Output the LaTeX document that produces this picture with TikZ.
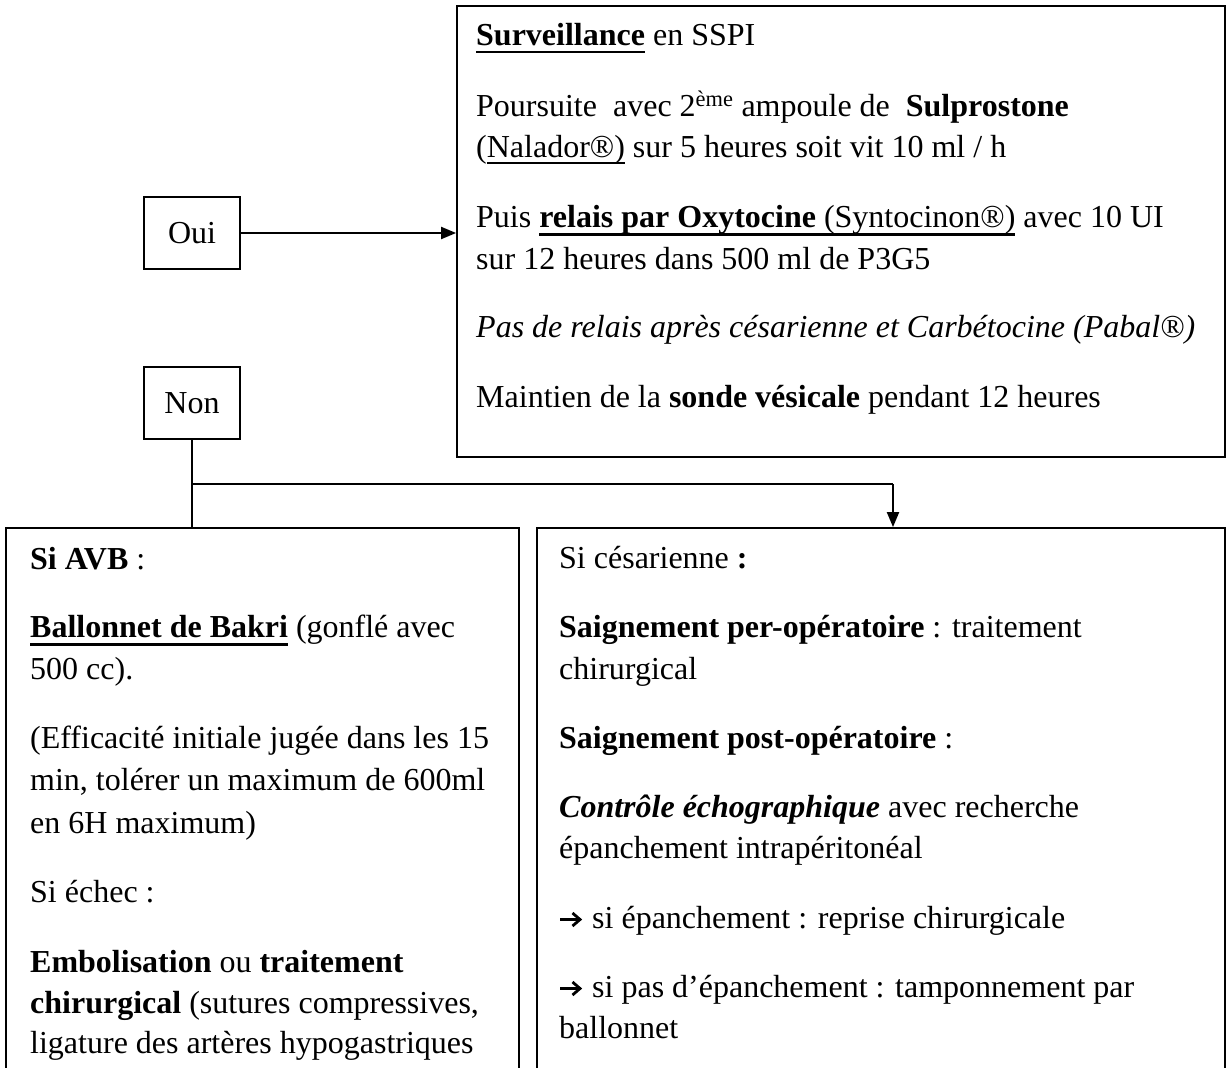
\documentclass[tikz,border=0pt]{standalone}
\usepackage{fontspec}
\setmainfont{Liberation Serif}
\usetikzlibrary{arrows.meta,calc}
\newcommand\ulb[1]{\setbox0\hbox{#1}\rlap{\rule[-8.5pt]{\wd0}{2.8pt}}\box0\relax}
\newcommand\ulr[1]{\setbox0\hbox{#1}\rlap{\rule[-6.5pt]{\wd0}{1.8pt}}\box0\relax}
\tikzset{
  box/.style={draw, line width=1.8pt, inner sep=0pt, rectangle},
  txt/.style={anchor=base west, inner sep=0pt, font=\fontsize{32}{42}\selectfont},
  conn/.style={line width=2pt},
  arr/.style={conn, -{Triangle[length=15pt,width=12pt]}},
  glypharrow/.style={line width=2.8pt, miter limit=10}
}
\newcommand\bulletarrow[1]{%
  \draw[glypharrow] ($(#1.base west)+(-32,-8.5)$) -- ++(21,0);
  \draw[glypharrow] ($(#1.base west)+(-19.5,-15)$) -- ++(7.5,6.5) -- ++(-7.5,6.5);
}
\begin{document}
\begin{tikzpicture}[x=1pt,y=-1pt]
\useasboundingbox (0,0) rectangle (1229,1068);
\clip (0,0) rectangle (1229,1068);
% boxes
\node[box, minimum width=768pt, minimum height=451pt] (surv) at (841,231.5) {};
\node[box, minimum width=96pt, minimum height=72pt, font=\fontsize{32}{42}\selectfont] (oui) at (192,233) {Oui};
\node[box, minimum width=96pt, minimum height=72pt, font=\fontsize{32}{42}\selectfont] (non) at (192,403) {Non};
\node[box, minimum width=513pt, minimum height=572pt] (avb) at (262.5,814) {};
\node[box, minimum width=688pt, minimum height=572pt] (ces) at (881,814) {};
\coordinate (split) at (192,484);
\coordinate (turn) at (893,484);
% connectors
\draw[arr] (oui.east) -- (oui.east -| surv.west);
\draw[conn] (non.south) -- (non.south |- avb.north);
\draw[conn] (split) -- (turn);
\draw[arr] (turn) -- (turn |- ces.north);
% top box text
\node[txt] (s1) at (476,45) {\ulb{\textbf{Surveillance}} en SSPI};
\node[txt] (s2) at (476,116) {Poursuite\ \ avec 2\textsuperscript{ème} ampoule de\ \ \textbf{Sulprostone}};
\node[txt] (s3) at (476,157) {(\ulr{Nalador®)} sur 5 heures soit vit 10 ml / h};
\node[txt] (s4) at (476,227) {Puis \ulb{\textbf{relais par Oxytocine} (Syntocinon®)} avec 10 UI};
\node[txt] (s5) at (476,269) {sur 12 heures dans 500 ml de P3G5};
\node[txt] (s6) at (476,337) {\textit{Pas de relais après césarienne et Carbétocine (Pabal®)}};
\node[txt] (s7) at (476,407) {Maintien de la \textbf{sonde vésicale} pendant 12 heures};
% left box text
\node[txt] (a1) at (30,569) {\textbf{Si AVB} :};
\node[txt] (a2) at (30,637) {\ulb{\textbf{Ballonnet de Bakri}} (gonflé avec};
\node[txt] (a3) at (30,679) {500 cc).};
\node[txt] (a4) at (30,748) {(Efficacité initiale jugée dans les 15};
\node[txt] (a5) at (30,790) {min, tolérer un maximum de 600ml};
\node[txt] (a6) at (30,833) {en 6H maximum)};
\node[txt] (a7) at (30,902) {Si échec :};
\node[txt] (a8) at (30,972) {\textbf{Embolisation} ou \textbf{traitement}};
\node[txt] (a9) at (30,1013) {\textbf{chirurgical} (sutures compressives,};
\node[txt] (a10) at (30,1053) {ligature des artères hypogastriques};
% right box text
\node[txt] (c1) at (559,568) {Si césarienne \textbf{:}};
\node[txt] (c2) at (559,637) {\textbf{Saignement per-opératoire} : traitement};
\node[txt] (c3) at (559,679) {chirurgical};
\node[txt] (c4) at (559,748) {\textbf{Saignement post-opératoire} :};
\node[txt] (c5) at (559,817) {\textbf{\textit{Contrôle échographique}} avec recherche};
\node[txt] (c6) at (559,858) {épanchement intrapéritonéal};
\node[txt] (c7) at (592,928) {si épanchement : reprise chirurgicale};
\node[txt] (c8) at (592,997) {si pas d’épanchement : tamponnement par};
\node[txt] (c9) at (559,1038) {ballonnet};
\bulletarrow{c7}
\bulletarrow{c8}
\end{tikzpicture}
\end{document}
